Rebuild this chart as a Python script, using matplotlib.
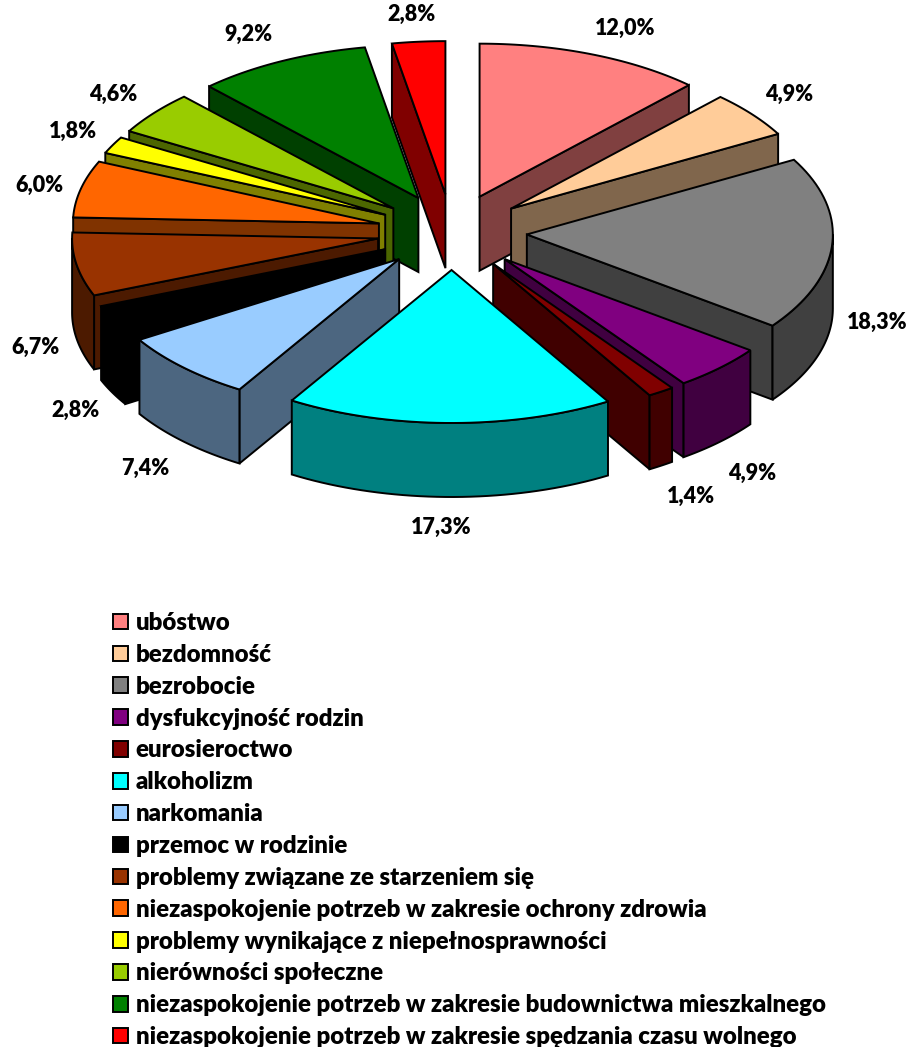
import numpy as np
import matplotlib
matplotlib.use('Agg')
import matplotlib.pyplot as plt
from matplotlib.patches import Patch

# data
categories = ['ubóstwo', 'bezdomność', 'bezrobocie', 'dysfukcyjność rodzin', 'eurosieroctwo',
              'alkoholizm', 'narkomania', 'przemoc w rodzinie',
              'problemy związane ze starzeniem się',
              'niezaspokojenie potrzeb w zakresie ochrony zdrowia',
              'problemy wynikające z niepełnosprawności', 'nierówności społeczne',
              'niezaspokojenie potrzeb w zakresie budownictwa mieszkalnego',
              'niezaspokojenie potrzeb w zakresie spędzania czasu wolnego']
values = [12.0, 4.9, 18.3, 4.9, 1.4, 17.3, 7.4, 2.8, 6.7, 6.0, 1.8, 4.6, 9.2, 2.8]
labels = ['12,0%', '4,9%', '18,3%', '4,9%', '1,4%', '17,3%', '7,4%', '2,8%', '6,7%', '6,0%',
          '1,8%', '4,6%', '9,2%', '2,8%']

top_colors = ['#FF8080', '#FFCC99', '#808080', '#800080', '#800000', '#00FFFF', '#99CCFF',
              '#000000', '#993300', '#FF6600', '#FFFF00', '#99CC00', '#008000', '#FF0000']
side_colors = ['#804040', '#80664C', '#404040', '#400040', '#400000', '#008080', '#4C6680',
               '#000000', '#4C1A00', '#803300', '#808000', '#4C6600', '#004000', '#800000']

# where the percent labels sit (pixels)
label_xy = [(625, 28), (789, 94), (877, 322), (752, 473), (691, 496), (441, 527), (145, 468),
            (75, 410), (35, 347), (39, 185), (73, 131), (113, 94), (248, 34), (411, 14)]

# pie geometry in pixels
cx, cy = 452, 232
rx, ry = 306, 153
ex, ey = 75, 38   # explosion
depth = 74

plt.rcParams['font.family'] = ['Lato', 'Open Sans', 'DejaVu Sans']
plt.rcParams['font.weight'] = 'bold'

fig = plt.figure(figsize=(9.11, 10.47), dpi=100)
ax = fig.add_axes([0, 0, 1, 1])
ax.set_xlim(0, 911)
ax.set_ylim(1047, 0)
ax.axis('off')

fracs = np.array(values) / sum(values)
ends = np.cumsum(fracs) * 2 * np.pi
starts = ends - fracs * 2 * np.pi
mids = (starts + ends) / 2


def rim(apex, a, b):
    t = np.linspace(a, b, 40)
    return apex[0] + rx * np.sin(t), apex[1] - ry * np.cos(t)


def face(xs, ys, color, z):
    ax.fill(xs, ys, facecolor=color, edgecolor='black', linewidth=1.4, joinstyle='miter', zorder=z)


def wall(apex, t, color, z):
    x = apex[0] + rx * np.sin(t)
    y = apex[1] - ry * np.cos(t)
    face([apex[0], x, x, apex[0]], [apex[1], y, y + depth, apex[1] + depth], color, z)


### painted from the back of the pie to the front
order = np.argsort(-np.cos(mids))
for z, i in enumerate(order):
    apex = (cx + ex * np.sin(mids[i]), cy - ey * np.cos(mids[i]))
    a, b = starts[i], ends[i]
    if np.sin(a) < -1e-6:
        wall(apex, a, side_colors[i], z)
    if np.sin(b) > 1e-6:
        wall(apex, b, side_colors[i], z)
    # outer rim, only the part that faces the viewer
    lo, hi = max(a, np.pi / 2), min(b, 3 * np.pi / 2)
    if lo < hi:
        xs, ys = rim(apex, lo, hi)
        face(np.r_[xs, xs[::-1]], np.r_[ys, ys[::-1] + depth], side_colors[i], z)
    xs, ys = rim(apex, a, b)
    face(np.r_[apex[0], xs], np.r_[apex[1], ys], top_colors[i], z)

for lab, (x, y) in zip(labels, label_xy):
    ax.text(x, y, lab, ha='center', va='center', fontsize=15.5, fontweight='heavy', color='black', zorder=50)

handles = [Patch(facecolor=c, edgecolor='black', linewidth=1.4) for c in top_colors]
ax.legend(handles, categories, loc='upper left', bbox_to_anchor=(113 / 911, 1 - 612 / 1047),
          frameon=False, handlelength=0.62, handleheight=0.62, handletextpad=0.33,
          labelspacing=0.41, borderaxespad=0, borderpad=0,
          prop={'family': ['Lato', 'Open Sans', 'DejaVu Sans'], 'weight': 'heavy', 'size': 17.3})

fig.savefig('out.png', dpi=100, facecolor='white')
